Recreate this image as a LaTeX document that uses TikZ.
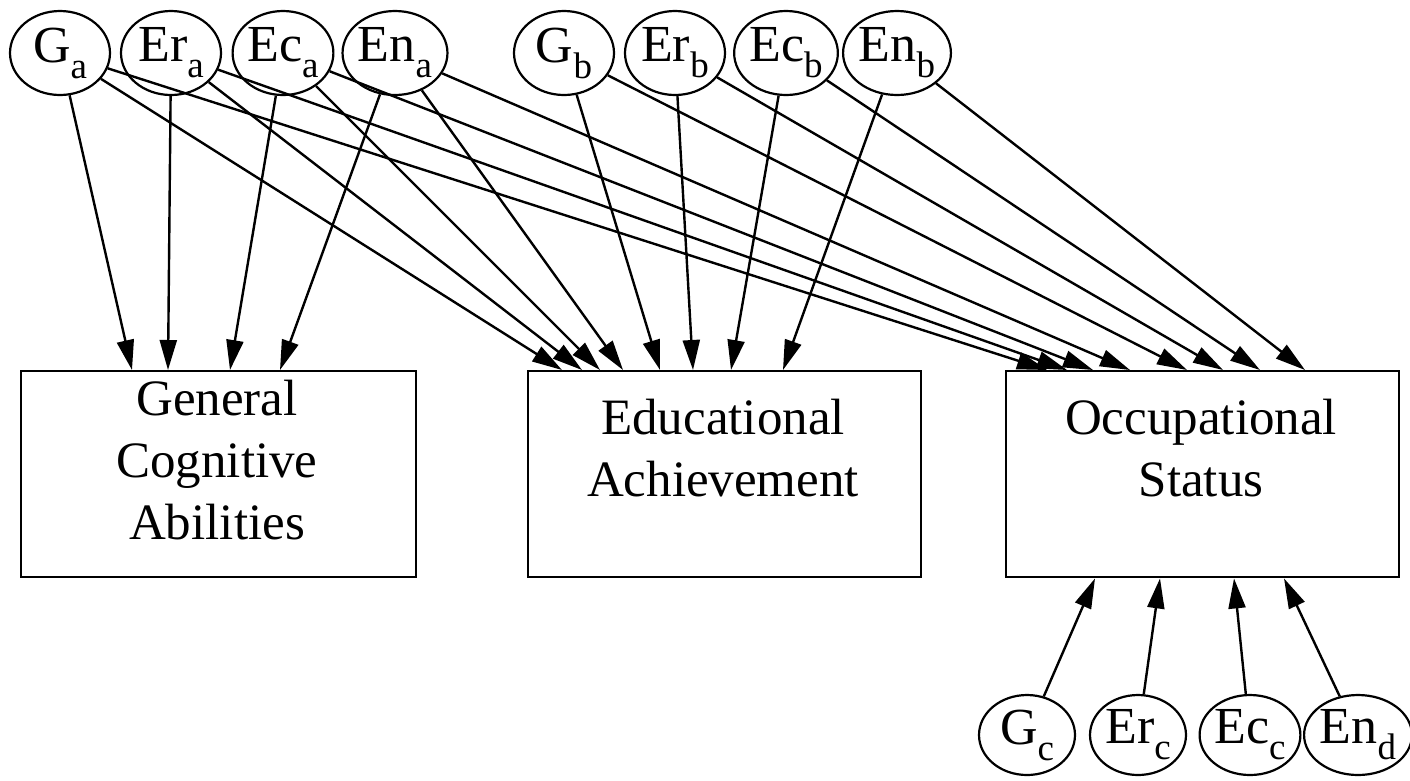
\documentclass[tikz,border=0pt]{standalone}
\usepackage{fontspec}
\setmainfont{Liberation Serif}
\usetikzlibrary{shapes.geometric,arrows.meta}
\newcommand{\sbs}[1]{\raisebox{-16pt}{\fontsize{37}{37}\selectfont #1}}
\begin{document}
\begin{tikzpicture}[x=1pt,y=-1pt,
 lat/.style={draw,ellipse,line width=2.2pt,minimum width=100pt,minimum height=84pt,inner sep=0pt,font=\fontsize{52}{52}\selectfont},
 latb/.style={lat,minimum width=96pt,minimum height=80pt},
 box/.style={draw,rectangle,line width=2.4pt,anchor=north west,inner sep=0pt,minimum height=206pt},
 lbl/.style={align=center,font=\fontsize{51}{62}\selectfont,inner sep=0pt},
 arr/.style={-{Triangle[length=30pt,width=17pt]},line width=2.4pt}]
\useasboundingbox (0,0) rectangle (1410,780);
% boxes
\node[box,minimum width=395pt] (gca) at (20,370) {};
\node[box,minimum width=393pt] (eda) at (527,370) {};
\node[box,minimum width=393pt] (ocs) at (1005,370) {};
\node[lbl] (tgca) at (217,460) {General\\Cognitive\\Abilities};
\node[lbl] (teda) at (723,448) {Educational\\Achievement};
\node[lbl] (tocs) at (1201,448) {Occupational\\Status};
% top latent variables
\node[lat] (ga)  at (60,53)  {G\sbs{a}};
\node[lat] (era) at (171,53) {Er\sbs{a}};
\node[lat] (eca) at (283,53) {Ec\sbs{a}};
\node[lat] (ena) at (395,53) {En\sbs{a}};
\node[lat] (gb)  at (564,53) {G\sbs{b}};
\node[lat] (erb) at (675,53) {Er\sbs{b}};
\node[lat] (ecb) at (786,53) {Ec\sbs{b}};
\node[lat] (enb) at (897,53) {En\sbs{b}};
% bottom latent variables
\node[latb] (gc)  at (1027,735) {G\sbs{c}};
\node[latb] (erc) at (1138,735) {Er\sbs{c}};
\node[latb] (ecc) at (1250,735) {Ec\sbs{c}};
\node[latb] (enx) at (1358,735) {En\sbs{d}};
% to General Cognitive Abilities
\draw[arr] (ga)  -- ([xshift=112pt]gca.north west);
\draw[arr] (era) -- ([xshift=148pt]gca.north west);
\draw[arr] (eca) -- ([xshift=210pt]gca.north west);
\draw[arr] (ena) -- ([xshift=260pt]gca.north west);
% to Educational Achievement
\draw[arr] (ga)  -- ([xshift=35pt]eda.north west);
\draw[arr] (era) -- ([xshift=55pt]eda.north west);
\draw[arr] (eca) -- ([xshift=73pt]eda.north west);
\draw[arr] (ena) -- ([xshift=96pt]eda.north west);
\draw[arr] (gb)  -- ([xshift=133pt]eda.north west);
\draw[arr] (erb) -- ([xshift=166pt]eda.north west);
\draw[arr] (ecb) -- ([xshift=204pt]eda.north west);
\draw[arr] (enb) -- ([xshift=256pt]eda.north west);
% to Occupational Status
\draw[arr] (ga)  -- ([xshift=42pt]ocs.north west);
\draw[arr] (era) -- ([xshift=62pt]ocs.north west);
\draw[arr] (eca) -- ([xshift=88pt]ocs.north west);
\draw[arr] (ena) -- ([xshift=125pt]ocs.north west);
\draw[arr] (gb)  -- ([xshift=182pt]ocs.north west);
\draw[arr] (erb) -- ([xshift=218pt]ocs.north west);
\draw[arr] (ecb) -- ([xshift=255pt]ocs.north west);
\draw[arr] (enb) -- ([xshift=300pt]ocs.north west);
% from below
\draw[arr] (gc)  -- ([xshift=90pt]ocs.south west);
\draw[arr] (erc) -- ([xshift=155pt]ocs.south west);
\draw[arr] (ecc) -- ([xshift=229pt]ocs.south west);
\draw[arr] (enx) -- ([xshift=279pt]ocs.south west);
\end{tikzpicture}
\end{document}
